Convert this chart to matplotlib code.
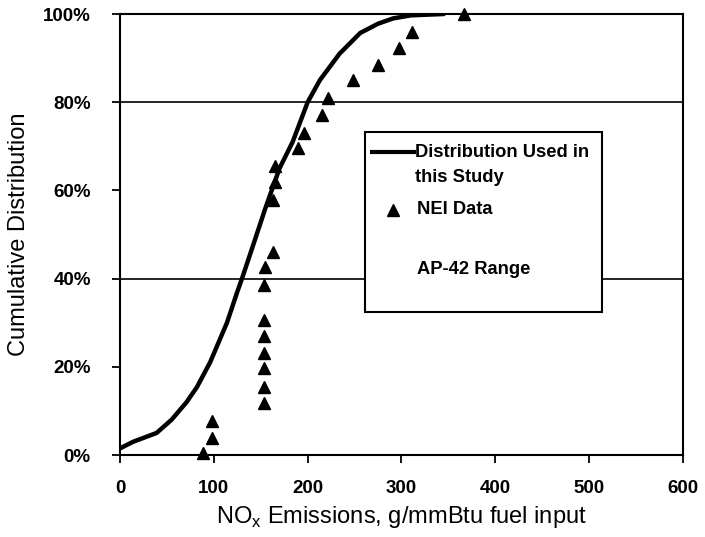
import matplotlib.pyplot as plt
from matplotlib.patches import Rectangle
from matplotlib.ticker import PercentFormatter

plt.rcParams['font.family'] = ['Liberation Sans', 'DejaVu Sans']

# fitted distribution curve (g/mmBtu, cumulative %)
curve_x = [0, 14, 39, 55, 71, 82, 96, 114, 125, 130, 141, 155, 170, 184, 200, 213, 234, 256, 275, 291, 310, 345]
curve_y = [1.5, 3, 5, 8, 12, 15.4, 21, 30, 37, 40, 47, 56, 65, 71, 80, 85, 91, 95.7, 97.8, 99, 99.7, 100]

# NEI data points
nei_x = [88, 98, 98, 154, 154, 154, 154, 154, 154, 154, 155, 163, 163, 165, 165,
         190, 196, 215, 222, 248, 275, 297, 311, 367]
nei_y = [0.5, 3.8, 7.8, 11.8, 15.4, 19.7, 23.1, 27.0, 30.6, 38.5, 42.6, 46.0, 57.8, 61.8, 65.5,
         69.6, 73.0, 77.0, 81.0, 85.0, 88.4, 92.4, 96.0, 100]

gridlines = [40, 80]

fig = plt.figure(figsize=(7.05, 5.37), dpi=100)
ax = fig.add_axes([0.1702, 0.1527, 0.7986, 0.8212])

for g in gridlines:
    ax.axhline(g, color='black', lw=1.2, zorder=1)

ax.plot(curve_x, curve_y, color='black', lw=3.2, zorder=3,
        solid_capstyle='round', solid_joinstyle='round')
ax.plot(nei_x, nei_y, ls='none', marker='^', ms=9, color='black', zorder=4, clip_on=False)

ax.set_xlim(0, 600)
ax.set_ylim(0, 100)
ax.set_xticks(range(0, 601, 100))
ax.set_yticks(range(0, 101, 20))
ax.yaxis.set_major_formatter(PercentFormatter(decimals=0))

for s in ax.spines.values():
    s.set_linewidth(1.5)
ax.tick_params(axis='both', direction='out', length=6, width=1.3, labelsize=13.5)
ax.tick_params(axis='y', pad=15)
ax.tick_params(axis='x', pad=12)
for lab in ax.get_xticklabels() + ax.get_yticklabels():
    lab.set_fontweight('bold')

ax.set_xlabel('NO$_\\mathregular{x}$ Emissions, g/mmBtu fuel input', fontsize=17, labelpad=5)
ax.set_ylabel('Cumulative Distribution', fontsize=17, labelpad=9)

# legend box drawn by hand
box = Rectangle((0.435, 0.324), 0.421, 0.408, transform=ax.transAxes,
                facecolor='white', edgecolor='black', lw=1.5, zorder=5)
ax.add_patch(box)
ax.plot([0.447, 0.523], [0.687, 0.687], transform=ax.transAxes, color='black', lw=3, zorder=6)
ax.text(0.524, 0.687, 'Distribution Used in', transform=ax.transAxes, fontsize=13.2,
        fontweight='bold', va='center', zorder=6)
ax.text(0.524, 0.630, 'this Study', transform=ax.transAxes, fontsize=13.2,
        fontweight='bold', va='center', zorder=6)
ax.plot([0.485], [0.556], transform=ax.transAxes, ls='none', marker='^', ms=8,
        color='black', zorder=6)
ax.text(0.527, 0.556, 'NEI Data', transform=ax.transAxes, fontsize=13.2,
        fontweight='bold', va='center', zorder=6)
ax.text(0.527, 0.420, 'AP-42 Range', transform=ax.transAxes, fontsize=13.2,
        fontweight='bold', va='center', zorder=6)

plt.savefig('out.png', dpi=100)
